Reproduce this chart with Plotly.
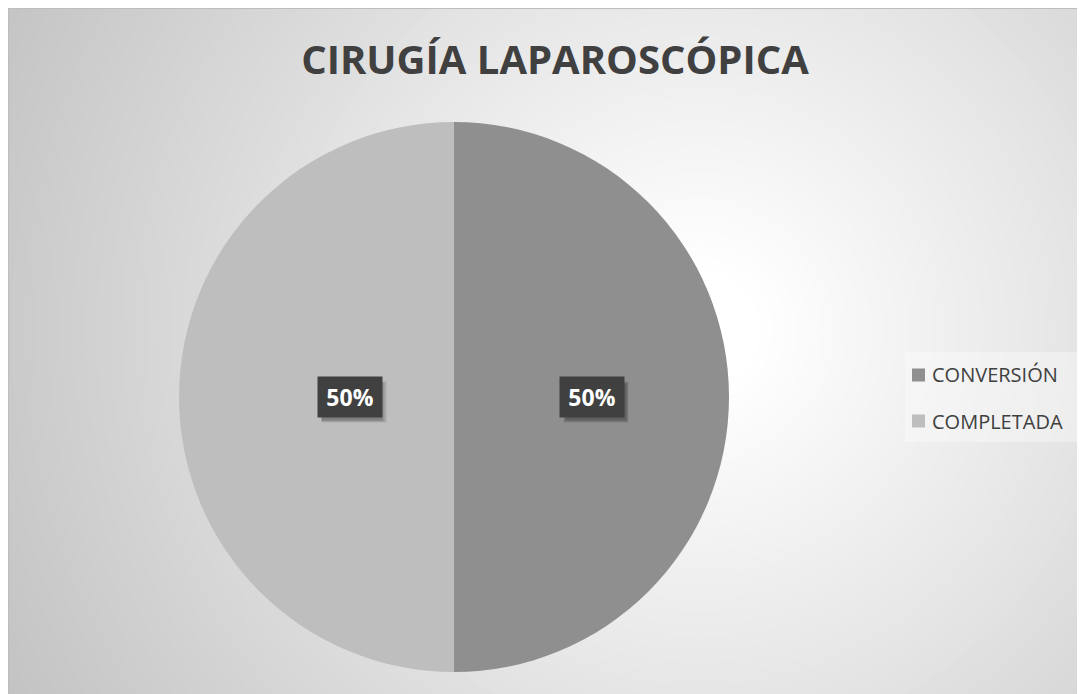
import math
import plotly.graph_objects as go

# ---- data ----
title_text = "CIRUGÍA LAPAROSCÓPICA"
labels = ["CONVERSIÓN", "COMPLETADA"]
values = [50, 50]
colors = ["#8f8f8f", "#bebebe"]

W, H = 1085, 694
OX, OY = 8, 8  # page body margin offset of the rendered figure
FONT = "Open Sans"
TXT = "#404040"

def px(x):
    return (x - OX) / W

def py(y):
    return 1 - (y - OY) / H

# pie geometry (screen pixels)
cx, cy, R = 454, 397, 275

shapes = []
# radial background gradient (concentric circles)
gcx, gcy = 700, 330
rmax, rmin = 800, 60
n = 60
for i in range(n + 1):
    r = rmax - (rmax - rmin) * i / n
    t = (r - rmin) / (rmax - rmin)
    c = int(round(255 - (255 - 194) * t))
    shapes.append(dict(type="circle", xref="paper", yref="paper", layer="below",
                       x0=px(gcx - r), x1=px(gcx + r), y0=py(gcy + r), y1=py(gcy - r),
                       fillcolor=f"rgb({c},{c},{c})", line=dict(width=0)))
# thin border
shapes.append(dict(type="rect", xref="paper", yref="paper", layer="below",
                   x0=0.0005, x1=1.01, y0=-0.01, y1=0.9993,
                   fillcolor="rgba(0,0,0,0)", line=dict(width=1, color="#bdbdbd")))
# legend background
shapes.append(dict(type="rect", xref="paper", yref="paper", layer="below",
                   x0=px(905), x1=1, y0=py(442), y1=py(352),
                   fillcolor="rgba(255,255,255,0.35)", line=dict(width=0)))

fig = go.Figure(go.Pie(
    labels=labels, values=values,
    marker=dict(colors=colors, line=dict(width=0)),
    sort=False, direction="clockwise", rotation=0,
    textinfo="none", hoverinfo="label+percent",
    showlegend=False,
    domain=dict(x=[px(cx - R), px(cx + R)], y=[py(cy + R), py(cy - R)]),
))

annotations = []
total = sum(values)
cum = 0
for lab, v in zip(labels, values):
    mid = 2 * math.pi * (cum + v / 2) / total
    cum += v
    x = cx + 0.5 * R * math.sin(mid)
    y = cy - 0.5 * R * math.cos(mid)
    # soft shadow
    for k, a in enumerate([0.10, 0.12, 0.14]):
        annotations.append(dict(x=px(x), y=py(y), xref="paper", yref="paper", text=" ",
                                showarrow=False, width=64 - 2 * k, height=40 - 2 * k,
                                bgcolor=f"rgba(0,0,0,{a})",
                                xshift=4, yshift=-5, borderpad=0))
    annotations.append(dict(x=px(x), y=py(y), xref="paper", yref="paper",
                            text=f"<b>{v / total:.0%}</b>", showarrow=False,
                            width=64, height=40, bgcolor="#404040", borderpad=0,
                            font=dict(family=FONT, size=23, color="white")))

# manual legend
leg_y = [375, 421]
for lab, col, yy in zip(labels, colors, leg_y):
    shapes.append(dict(type="rect", xref="paper", yref="paper",
                       x0=px(912), x1=px(925), y0=py(yy + 6.5), y1=py(yy - 6.5),
                       fillcolor=col, line=dict(width=0)))
    annotations.append(dict(x=px(930), y=py(yy), xref="paper", yref="paper",
                            text=lab, showarrow=False, xanchor="left", yanchor="middle",
                            font=dict(family=FONT, size=20, color=TXT)))

fig.update_layout(
    width=W, height=H,
    margin=dict(l=0, r=0, t=0, b=0),
    paper_bgcolor="white", plot_bgcolor="white",
    title=dict(text=f"<b>{title_text}</b>", x=px(555), y=py(60), xanchor="center", yanchor="middle",
               font=dict(family=FONT, size=40, color=TXT)),
    shapes=shapes, annotations=annotations,
)

fig.write_html("out.html")
